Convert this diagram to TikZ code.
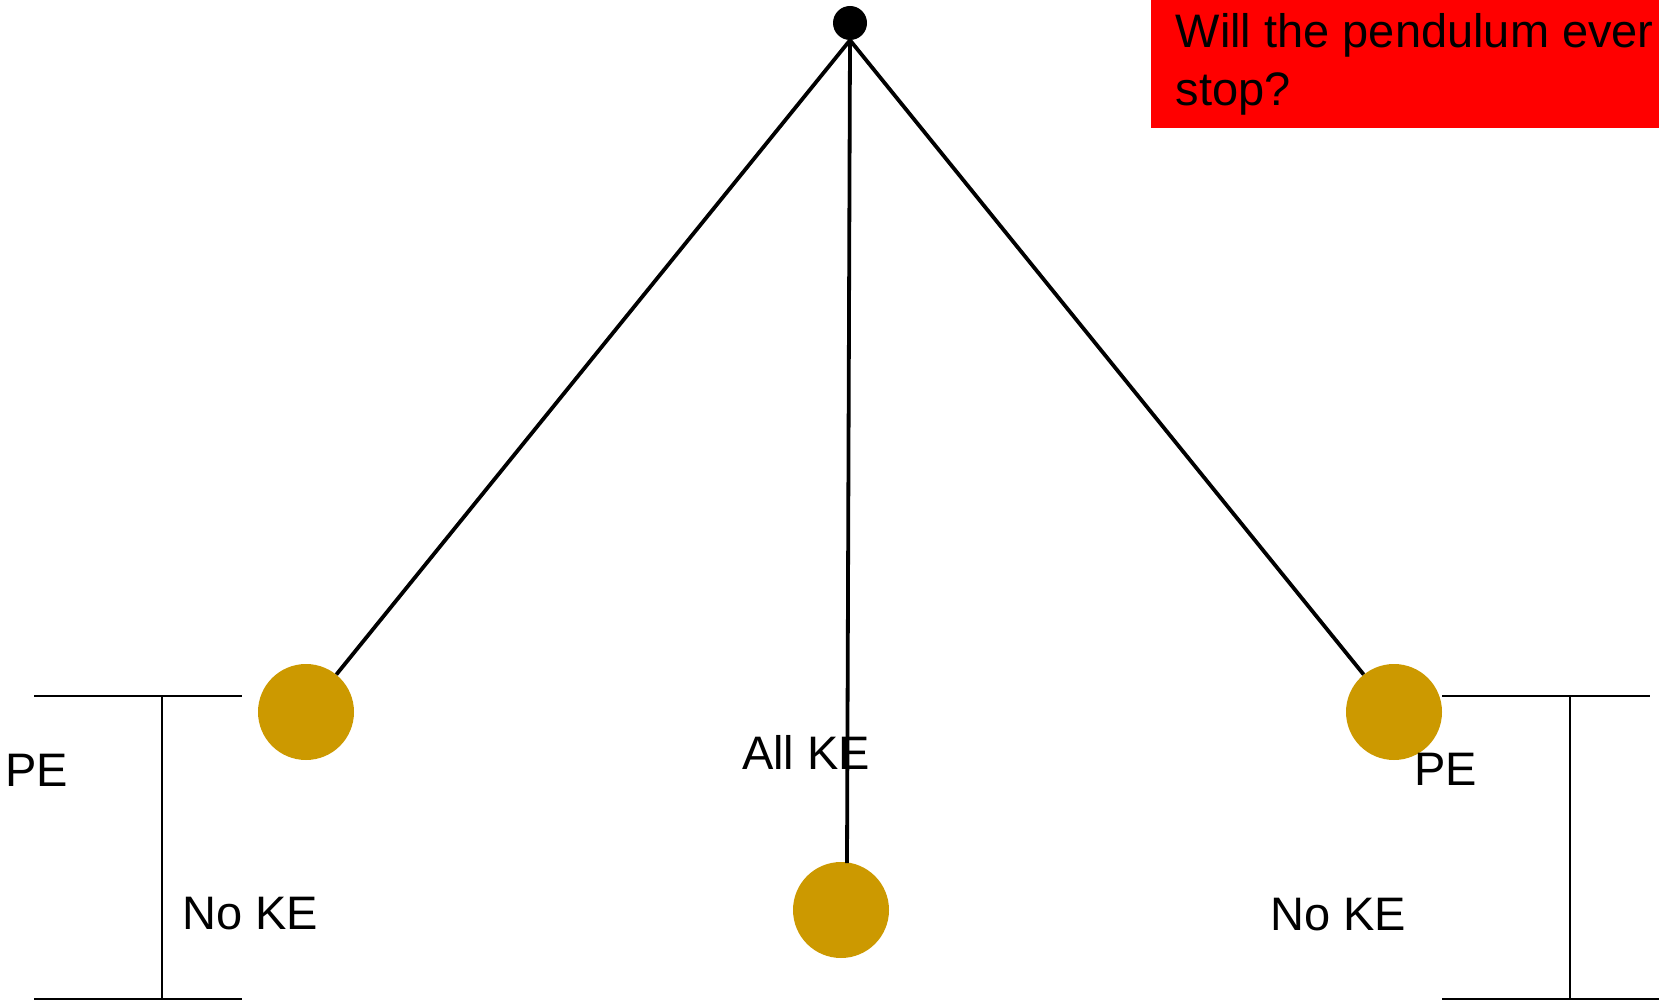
\documentclass[tikz,border=0pt]{standalone}
\usepackage{fontspec}
\setmainfont{Liberation Sans}
\definecolor{bobgold}{RGB}{204,153,0}
\begin{document}
\begin{tikzpicture}[x=1pt,y=-1pt,
  bob/.style={circle, fill=bobgold, minimum size=96pt, inner sep=0pt},
  rod/.style={line width=3.8pt},
  ruler/.style={line width=2.5pt},
  lbl/.style={font=\fontsize{47}{56}\selectfont, anchor=base west, inner sep=0pt}]
\useasboundingbox (0,0) rectangle (1659,1000);
% question box
\node[fill=red, anchor=north west, minimum width=527pt, minimum height=128pt,
      inner sep=0pt, align=left,
      font=\fontsize{47}{58}\selectfont] (q) at (1151,0) {Will the pendulum ever\\stop?};
% pivot
\node[circle, fill=black, minimum size=34pt, inner sep=0pt] (pivot) at (850,23) {};
% bobs
\node[bob] (bobL) at (306,712) {};
\node[bob] (bobC) at (841,910) {};
\node[bob] (bobR) at (1394,712) {};
\coordinate (rodC) at (847,863);
% rods
\draw[rod] (pivot.south) -- (bobL);
\draw[rod] (pivot.south) -- (bobR);
\draw[rod] (pivot.south) -- (rodC);
% left bracket
\coordinate (lt1) at (34,696); \coordinate (lt2) at (242,696);
\coordinate (lb1) at (34,999); \coordinate (lb2) at (242,999);
\coordinate (lvt) at (162,696); \coordinate (lvb) at (162,999);
\draw[ruler] (lt1) -- (lt2);
\draw[ruler] (lb1) -- (lb2);
\draw[ruler] (lvt) -- (lvb);
% right bracket
\coordinate (rt1) at (1442,696); \coordinate (rt2) at (1650,696);
\coordinate (rb1) at (1442,999); \coordinate (rb2) at (1659,999);
\coordinate (rvt) at (1570,696); \coordinate (rvb) at (1570,999);
\draw[ruler] (rt1) -- (rt2);
\draw[ruler] (rb1) -- (rb2);
\draw[ruler] (rvt) -- (rvb);
% labels
\node[lbl] (peL) at (5,786) {PE};
\node[lbl] (nokeL) at (182,929) {No KE};
\node[lbl] (allke) at (742,769) {All KE};
\node[lbl] (peR) at (1414,785) {PE};
\node[lbl] (nokeR) at (1270,930) {No KE};
\end{tikzpicture}
\end{document}
